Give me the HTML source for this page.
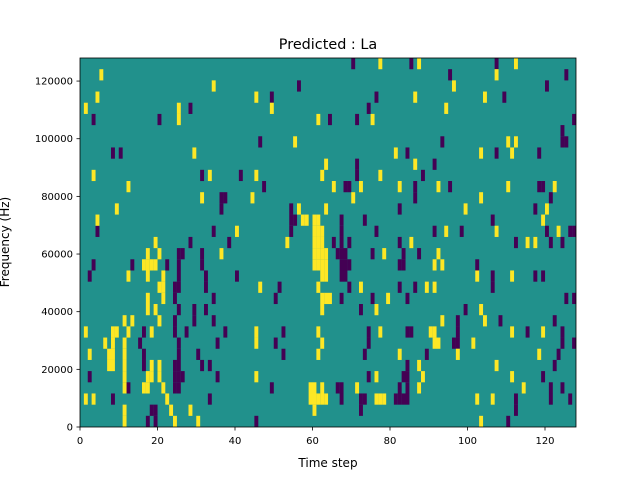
<!DOCTYPE html>
<html><head><meta charset="utf-8"><style>
body{margin:0;background:#fff;}
svg{display:block;font-family:"DejaVu Sans","Liberation Sans",sans-serif;}
</style></head><body>
<svg id="chart" width="640" height="480" viewBox="0 0 640 480" xmlns="http://www.w3.org/2000/svg">
<rect width="640" height="480" fill="#fff"/>
<text x="328" y="49" font-size="14.4" text-anchor="middle" fill="#000">Predicted : La</text>
<g id="cells"></g>
<rect x="80" y="58" width="496" height="369" fill="none" stroke="#000" stroke-width="0.8"/>
<g id="xticks"></g>
<g id="yticks"></g>
<text x="328" y="467" font-size="12" text-anchor="middle">Time step</text>
<text transform="translate(9,242) rotate(-90)" font-size="12" text-anchor="middle">Frequency (Hz)</text>
</svg>
<script>
const nTime = 128;
const nBins = 33;
const freqMax = 128000;
const xTicks = [0, 20, 40, 60, 80, 100, 120];
const yTicks = [0, 20000, 40000, 60000, 80000, 100000, 120000];
// [timeStep, binFromTop]
const purpleCells = [[28,4],[3,5],[20,5],[8,8],[10,8],[31,10],[4,15],[28,16],
[25,17],[26,17],[31,17],[3,18],[13,18],[22,18],[25,18],[31,18],[2,19],[25,19],[24,20],[25,20],[24,21],[25,22],[29,22],[24,23],[29,23],[16,24],[24,24],[27,24],[15,25],[25,25],[16,26],[25,26],[30,26],[16,27],[24,27],[25,27],[31,27],[2,28],[24,28],[25,28],[26,28],[12,29],[24,29],[25,29],[8,30],[18,31],[19,31],[17,32],[19,32],
[56,2],[49,3],[46,7],[41,10],[47,11],[36,12],[37,12],[36,13],[54,13],[54,14],[55,14],[34,15],[54,15],[38,16],
[32,19],[40,19],[32,20],[51,20],[34,21],[50,21],[32,22],[34,23],[37,24],[52,24],[35,25],[50,25],[52,26],[33,27],[35,28],[49,29],[33,30],[45,32],
[70,0],[85,0],[95,1],[76,3],[74,4],[64,5],[71,5],[93,7],[84,8],[71,9],[91,9],[71,10],[88,10],[68,11],[69,11],[86,11],[95,11],[86,12],[82,13],[67,14],[73,14],[67,15],[76,15],[91,15],[65,16],[67,16],[69,16],[82,16],
[66,17],[67,17],[68,17],[75,17],[83,17],[87,17],[67,18],[68,18],[69,18],[82,18],[83,18],[67,19],[68,19],[69,20],[82,20],[86,20],[67,21],[75,21],[84,21],[72,22],[74,24],[84,24],[85,24],[74,25],[73,26],[89,26],[84,27],[74,28],[83,28],[84,28],[66,29],[67,29],[82,29],[84,29],[67,30],[72,30],[73,30],[81,30],[82,30],[83,30],[84,30],[72,31],
[107,0],[125,1],[120,2],[109,3],[127,5],[124,6],[124,7],[125,7],[107,8],[118,8],[118,11],[119,11],[121,12],[117,13],[106,14],[98,15],[120,15],[126,15],[127,15],[112,16],[121,16],[124,16],
[102,18],[106,19],[117,19],[119,19],[106,20],[125,21],[127,21],[99,22],[97,23],[108,23],[122,23],[97,24],[115,24],[124,24],[96,25],[97,25],[124,25],[127,25],[123,26],[122,27],[119,28],[121,29],[124,29],[112,30],[121,30],[126,30],[112,31],[110,32]];
const yellowCells = [[5,1],[4,3],[1,4],[25,4],[25,5],[29,8],[3,10],[12,11],[31,12],[9,13],[4,14],[19,16],
[17,17],[20,17],[16,18],[17,18],[18,18],[19,18],[12,19],[17,19],[21,19],[20,20],[21,20],[17,21],[21,21],[17,22],[19,22],[11,23],[13,23],[20,23],[1,24],[8,24],[9,24],[12,24],[18,24],[6,25],[8,25],[11,25],[2,26],[7,26],[8,26],[11,26],[7,27],[8,27],[11,27],[18,27],[20,27],[11,28],[17,28],[18,28],[20,28],[11,29],[16,29],[17,29],[21,29],[1,30],[3,30],[22,30],[11,31],[23,31],[28,31],[11,32],[24,32],[30,32],
[34,2],[45,3],[49,4],[61,5],[55,7],[63,9],[33,10],[45,10],[62,10],[44,12],[56,13],[63,13],[57,14],[58,14],[60,14],[61,14],[40,15],[60,15],[61,15],[62,15],[53,16],[60,16],[61,16],[62,16],
[36,17],[60,17],[61,17],[62,17],[63,17],[60,18],[61,18],[62,18],[63,18],[62,19],[63,19],[46,20],[61,20],[62,21],[63,21],[62,22],[45,24],[61,24],[45,25],[62,25],[61,26],[45,28],[59,29],[60,29],[62,29],[59,30],[60,30],[61,30],[62,30],[63,30],[60,31],
[77,0],[87,0],[86,3],[94,4],[75,5],[81,8],[86,9],[77,10],[65,11],[72,11],[82,11],[92,11],[70,12],[94,15],[85,16],
[78,17],[92,17],[91,18],[93,18],[72,20],[89,20],[91,20],[64,21],[79,21],[76,22],[93,23],[77,24],[90,24],[91,24],[91,25],[92,25],[82,26],[87,27],[76,28],[88,28],[71,29],[87,29],[76,30],[77,30],[78,30],
[112,0],[107,1],[96,2],[104,3],[110,7],[112,7],[103,8],[111,8],[110,11],[122,11],[103,12],[99,13],[120,13],[119,14],[107,15],[123,15],[115,16],[117,16],
[102,19],[111,19],[103,22],[104,23],[111,24],[119,24],[101,25],[97,26],[118,26],[107,27],[111,28],[114,29],[102,30],[106,30],[103,32]];

const X0 = 80, X1 = 576, Y0 = 427, Y1 = 58;
const NS = "http://www.w3.org/2000/svg";
function xScale(t){ return X0 + (t / nTime) * (X1 - X0); }
function yScale(v){ return Y0 - (v / freqMax) * (Y0 - Y1); }
function rowTop(r){ return Y1 + r * (Y0 - Y1) / nBins; }
function mk(tag, attrs){ const e = document.createElementNS(NS, tag); for (const k in attrs) e.setAttribute(k, attrs[k]); return e; }

const cells = document.getElementById('cells');
const bg = mk('rect', {x: X0, y: Y1, width: X1 - X0, height: Y0 - Y1, fill: '#21918c'});


cells.appendChild(bg);
function drawCells(list, color, name){
  list.forEach(c => {
    const x = xScale(c[0]), x2 = xScale(c[0] + 1);
    const y = rowTop(c[1]), y2 = rowTop(c[1] + 1);
    const r = mk('rect', {x: x, y: y, width: x2 - x + 0.05, height: y2 - y + 0.05, fill: color});
    
    
    cells.appendChild(r);
  });
}
drawCells(purpleCells, '#440154', 'cell-low');
drawCells(yellowCells, '#fde725', 'cell-high');

const xg = document.getElementById('xticks');
xTicks.forEach(t => {
  const x = xScale(t);
  const l = mk('line', {x1: x, x2: x, y1: Y0, y2: Y0 + 3.5, stroke: '#000', 'stroke-width': 0.8});
  
  
  xg.appendChild(l);
  const tx = mk('text', {x: x, y: Y0 + 17, 'font-size': 10, 'text-anchor': 'middle'});
  
  
  tx.textContent = t;
  xg.appendChild(tx);
});
const yg = document.getElementById('yticks');
yTicks.forEach(v => {
  const y = yScale(v);
  const l = mk('line', {x1: X0 - 3.5, x2: X0, y1: y, y2: y, stroke: '#000', 'stroke-width': 0.8});
  
  
  yg.appendChild(l);
  const tx = mk('text', {x: X0 - 7, y: y + 3.5, 'font-size': 10, 'text-anchor': 'end'});
  
  
  tx.textContent = v;
  yg.appendChild(tx);
});
</script>
</body></html>
